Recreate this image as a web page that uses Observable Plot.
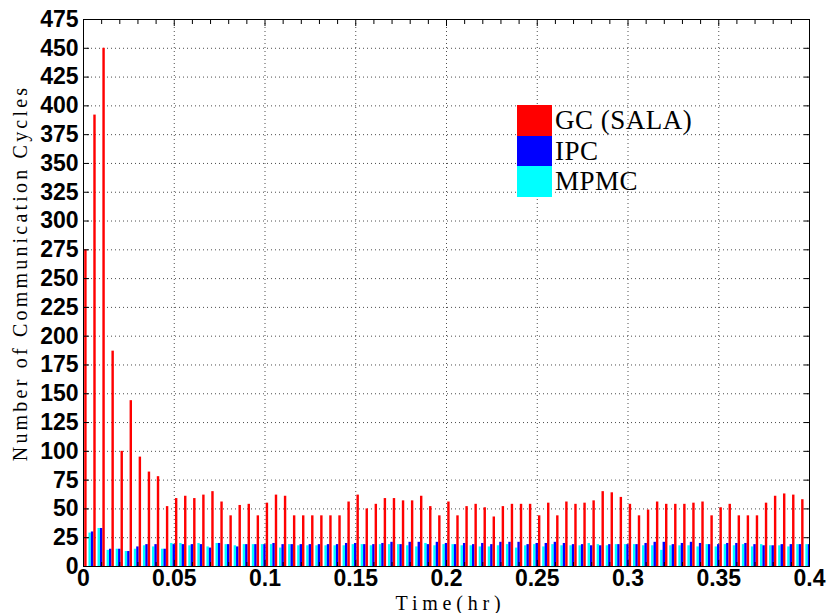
<!DOCTYPE html>
<html><head><meta charset="utf-8">
<script src="https://cdn.jsdelivr.net/npm/d3@7"></script>
<script src="https://cdn.jsdelivr.net/npm/@observablehq/plot@0.6"></script>
<style>
body{margin:0;background:#fff;}
#wrap{position:relative;width:827px;height:613px;overflow:hidden;}
#legend{position:absolute;left:517px;top:105px;font-family:"Liberation Serif",serif;font-size:27px;color:#000;}
#legend .row{display:flex;align-items:center;height:30.7px;}
#legend .sw{width:35px;height:30.7px;margin-right:3px;}
</style></head><body><div id="wrap"></div>
<script>
const times = [0,0.005,0.01,0.015,0.02,0.025,0.03,0.035,0.04,0.045,
0.05,0.055,0.06,0.065,0.07,0.075,0.08,0.085,0.09,0.095,
0.1,0.105,0.11,0.115,0.12,0.125,0.13,0.135,0.14,0.145,
0.15,0.155,0.16,0.165,0.17,0.175,0.18,0.185,0.19,0.195,
0.2,0.205,0.21,0.215,0.22,0.225,0.23,0.235,0.24,0.245,
0.25,0.255,0.26,0.265,0.27,0.275,0.28,0.285,0.29,0.295,
0.3,0.305,0.31,0.315,0.32,0.325,0.33,0.335,0.34,0.345,
0.35,0.355,0.36,0.365,0.37,0.375,0.38,0.385,0.39,0.395,
0.4];
const gc = [275,392,450,187,100,144,95,82,78,52,
59,61,59,62,65,56,44,53,54,44,
55,62,61,44,44,44,44,44,44,56,
62,50,54,59,59,57,57,61,52,44,
56,44,52,54,51,43,52,54,54,54,
44,55,44,56,54,55,57,65,64,60,
54,44,49,56,54,54,54,55,56,44,
51,54,44,44,44,55,61,63,62,58];
const ipc = [23,30,33,15,15,13,17,19,19,15,
19,19,19,19,16,20,19,17,19,19,
19,20,19,19,19,19,19,19,19,20,
20,19,19,20,21,19,21,21,19,21,
20,19,20,19,20,19,21,21,21,19,
20,20,21,20,19,19,18,18,19,19,
19,19,20,21,21,19,20,21,20,19,
19,20,20,20,19,18,18,19,19,19,
19];
const mpmc = [20,29,33,14,15,13,15,18,17,15,
20,20,18,20,17,20,19,18,19,19,
19,19,16,19,18,18,18,18,18,18,
19,19,18,19,19,19,18,17,20,18,
19,19,18,18,17,17,18,19,16,18,
19,17,19,18,18,18,20,19,18,19,
19,19,18,18,14,18,18,18,17,19,
17,19,18,19,17,19,18,18,17,19,
19];
const seriesNames = ["GC (SALA)", "IPC", "MPMC"];
const seriesColors = ["#ff0000", "#0000ff", "#00ffff"];
const yTicks = [0,25,50,75,100,125,150,175,200,225,250,275,300,325,350,375,400,425,450,475];
const xTicks = [0,0.05,0.1,0.15,0.2,0.25,0.3,0.35,0.4];
const xMinorTicks = [0.01,0.02,0.03,0.04,0.06,0.07,0.08,0.09,0.11,0.12,0.13,0.14,0.16,0.17,0.18,0.19,
0.21,0.22,0.23,0.24,0.26,0.27,0.28,0.29,0.31,0.32,0.33,0.34,0.36,0.37,0.38,0.39];
const xLabel = "Time(hr)";
const yLabel = "Number of Communication Cycles";

// grouped bar geometry (in data units): 3 bars per group, 80% of the step
const step = 0.005, barW = step * 0.8 / 3;
function series(values, slot) {
  return values.map((v, i) => ({t: times[i], v, slot}));
}
const cyanRows = series(mpmc, -1), blueRows = series(ipc, 0), redRows = series(gc, 1);
const bar = (rows, fill) => Plot.rectY(rows, {
  x1: d => d.t + d.slot * barW - barW / 2,
  x2: d => d.t + d.slot * barW + barW / 2,
  y: "v", fill, clip: true
});

const tickFont = {fontSize: 23, fontWeight: "bold", fontFamily: "Liberation Sans, Arial, sans-serif"};
const grid = {stroke: "#3a3a3a", strokeOpacity: 0.9, strokeDasharray: "1,3"};

const svg = Plot.plot({
  width: 827, height: 613,
  marginLeft: 83, marginRight: 18, marginTop: 19, marginBottom: 47,
  x: {domain: [0, 0.4]},
  y: {domain: [0, 475]},
  style: {background: "white", color: "black"},
  marks: [
    Plot.gridX(xTicks.slice(1, -1), grid),
    Plot.gridY(yTicks.slice(1, -1), grid),
    bar(cyanRows, seriesColors[2]),
    bar(blueRows, seriesColors[1]),
    bar(redRows, seriesColors[0]),
    Plot.axisX(xTicks, {anchor: "bottom", tickSize: -6, tickPadding: 9, tickFormat: d => String(d), label: null, ...tickFont}),
    Plot.axisX(xMinorTicks, {anchor: "bottom", tickSize: -4, tickFormat: () => "", label: null}),
    Plot.axisX(xTicks, {anchor: "top", tickSize: -6, tickFormat: () => "", label: null}),
    Plot.axisX(xMinorTicks, {anchor: "top", tickSize: -4, tickFormat: () => "", label: null}),
    Plot.axisY(yTicks, {anchor: "left", tickSize: -6, tickPadding: 11, tickFormat: d => String(d), label: null, ...tickFont}),
    Plot.axisY(yTicks, {anchor: "right", tickSize: -6, tickFormat: () => "", label: null}),
    Plot.text([xLabel], {text: d => d, frameAnchor: "bottom", dx: 4, dy: 37, lineAnchor: "middle", textAnchor: "middle",
      fontSize: 20, fontFamily: "Liberation Serif, serif"}),
    Plot.text([yLabel], {text: d => d, frameAnchor: "left", dx: -63, dy: -20, rotate: -90, lineAnchor: "middle", textAnchor: "middle",
      fontSize: 20, fontFamily: "Liberation Serif, serif"})
    ,
    Plot.frame({stroke: "black", strokeWidth: 1})
  ]
});
d3.select(svg).selectAll("text").filter(function() { return this.textContent === xLabel; }).style("letter-spacing", "4.8px");
d3.select(svg).selectAll("text").filter(function() { return this.textContent === yLabel; }).style("letter-spacing", "3.2px");
const wrap = document.getElementById("wrap");
wrap.appendChild(svg);

const legend = document.createElement("div");
legend.id = "legend";
seriesNames.forEach((name, i) => {
  const row = document.createElement("div");
  row.className = "row";
  const sw = document.createElement("div");
  sw.className = "sw";
  sw.style.background = seriesColors[i];
  const label = document.createElement("span");
  label.textContent = name;
  label.style.letterSpacing = "0.5px";
  row.appendChild(sw);
  row.appendChild(label);
  legend.appendChild(row);
});
wrap.appendChild(legend);
</script></body></html>
